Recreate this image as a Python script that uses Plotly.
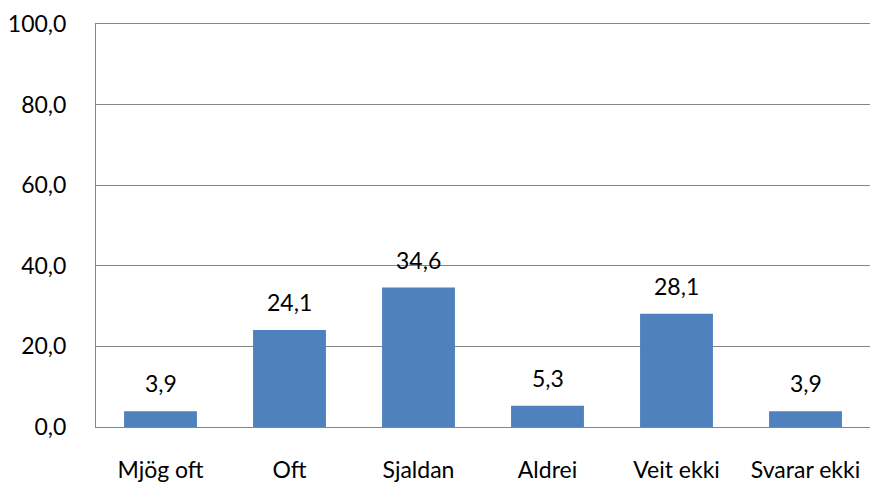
import plotly.graph_objects as go

categories = ["Mjög oft", "Oft", "Sjaldan", "Aldrei", "Veit ekki", "Svarar ekki"]
values = [3.9, 24.1, 34.6, 5.3, 28.1, 3.9]
y_ticks = [0, 20, 40, 60, 80, 100]

font_family = "Lato, Carlito, 'Open Sans', 'Liberation Sans', sans-serif"
fs = 23


def fmt(v):
    return f"{v:.1f}".replace(".", ",")


fig = go.Figure(
    go.Bar(
        x=categories,
        y=values,
        marker=dict(color="#4F81BD", line=dict(width=0)),
        hoverinfo="skip",
    )
)

for c, v in zip(categories, values):
    fig.add_annotation(
        x=c, y=v, text=fmt(v), showarrow=False,
        yanchor="bottom", yshift=12,
        font=dict(size=fs, color="black", family=font_family),
    )

fig.update_layout(
    width=870,
    height=482,
    margin=dict(l=96, r=0, t=24, b=55, autoexpand=False),
    paper_bgcolor="white",
    plot_bgcolor="white",
    bargap=0.435,
    showlegend=False,
    separators=",.",
    font=dict(family=font_family, size=fs, color="black"),
)

fig.update_xaxes(
    showline=True,
    mirror=True,
    linecolor="#868686",
    linewidth=1,
    showgrid=False,
    ticks="",
    automargin=False,
    ticklabelstandoff=22,
    tickfont=dict(size=fs, color="black"),
)

fig.update_yaxes(
    range=[0, 100],
    tickvals=y_ticks,
    ticktext=[fmt(v) for v in y_ticks],
    showgrid=True,
    gridcolor="#868686",
    gridwidth=1,
    showline=True,
    linecolor="#868686",
    linewidth=1,
    zeroline=False,
    ticks="",
    automargin=False,
    ticklabelstandoff=24,
    tickfont=dict(size=fs, color="black"),
)

fig.write_html(
    "out.html",
    config={"displayModeBar": False},
    post_script="document.body.style.margin='0';document.body.style.padding='0';",
)
